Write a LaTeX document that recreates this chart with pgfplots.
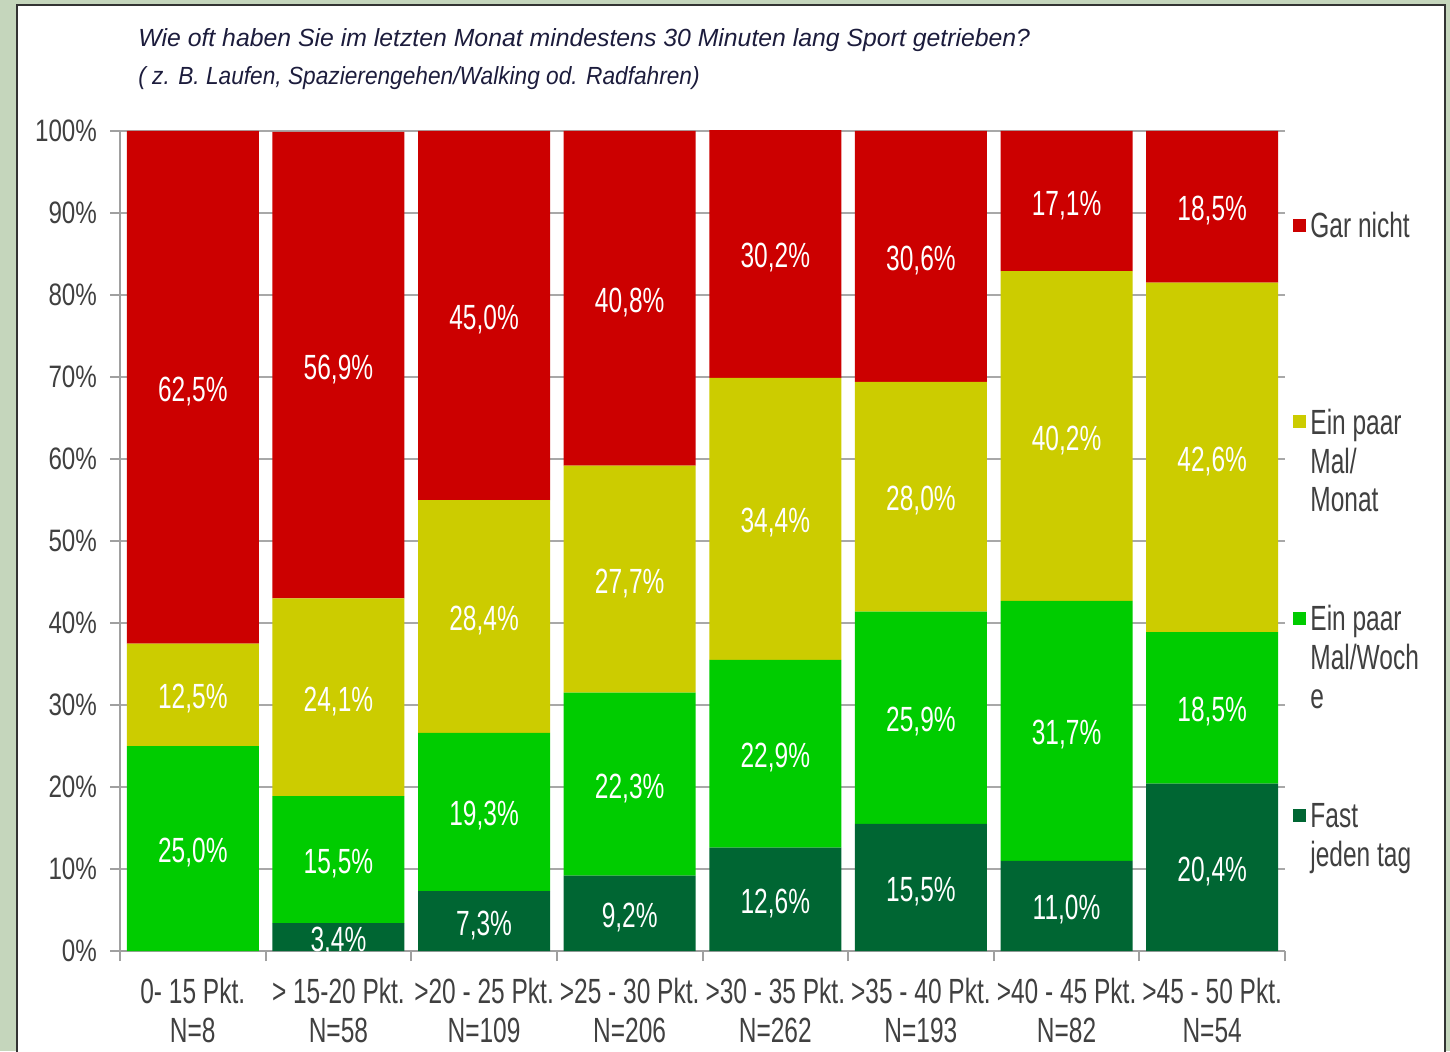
\documentclass[border=0pt]{standalone}
\usepackage{pgfplots}
\pgfplotsset{compat=1.18}
\usepackage{pgfplotstable}
\usepackage{fontspec}
\setmainfont{Liberation Sans}
\newfontfamily\narrow{Liberation Sans}[FakeStretch=0.7]
\newfontfamily\ticknarrow{Liberation Sans}[FakeStretch=0.78]
\newfontfamily\titletwo{Liberation Sans}[FakeStretch=0.915]
\definecolor{gar}{HTML}{CC0000}
\definecolor{monat}{HTML}{CCCC00}
\definecolor{woche}{HTML}{00CC00}
\definecolor{fast}{HTML}{006633}
\definecolor{bgg}{HTML}{C5D6BC}
\definecolor{txt}{HTML}{404040}
\definecolor{ttl}{HTML}{1C1C3C}
\definecolor{axgray}{HTML}{A0A0A0}
\definecolor{grdgray}{HTML}{A8A8A8}

\pgfplotstableread{
x fast woche monat gar
0 0    25.0 12.5 62.5
1 3.4  15.5 24.1 56.9
2 7.3  19.3 28.4 45.0
3 9.2  22.3 27.7 40.8
4 12.6 22.9 34.4 30.2
5 15.5 25.9 28.0 30.6
6 11.0 31.7 40.2 17.1
7 20.4 18.5 42.6 18.5
}\data
\pgfplotstablecreatecol[create col/expr={\thisrow{fast}/2}]{mfast}\data
\pgfplotstablecreatecol[create col/expr={\thisrow{fast}+\thisrow{woche}/2}]{mwoche}\data
\pgfplotstablecreatecol[create col/expr={\thisrow{fast}+\thisrow{woche}+\thisrow{monat}/2}]{mmonat}\data
\pgfplotstablecreatecol[create col/expr={\thisrow{fast}+\thisrow{woche}+\thisrow{monat}+\thisrow{gar}/2}]{mgar}\data

\pgfplotsset{
  geom/.style={at={(60pt,50pt)}, anchor=south west, scale only axis,
    width=582.5pt, height=410pt, xmin=-0.5, xmax=7.5, ymin=0, ymax=100},
  lbl/.style={draw=none, mark=none, point meta=explicit,
    nodes near coords={\pgfmathprintnumber[fixed,fixed zerofill,precision=1,use comma]{\pgfplotspointmeta}\%},
    every node near coord/.append style={font=\narrow\fontsize{17.5}{19.5}\selectfont, text=white, anchor=center, inner sep=0pt, yshift=-2pt}},
}

\begin{document}
\begin{tikzpicture}
\clip (0,0) rectangle (725pt,525.5pt);
\fill[bgg] (0,0) rectangle (725pt,525.5pt);
\filldraw[fill=white, draw=black!80, line width=1pt] (8.5pt,-5pt) rectangle (722.5pt,523pt);

\node[anchor=base west, text=ttl, font=\fontsize{12.4}{14}\selectfont\itshape, inner sep=0pt] at (69pt,502pt) {Wie oft haben Sie im letzten Monat mindestens 30 Minuten lang Sport getrieben?};
\node[anchor=base west, text=ttl, font=\titletwo\fontsize{12.4}{14}\selectfont\itshape, inner sep=0pt] at (69pt,483pt) {( z. B. Laufen, Spazierengehen/Walking od. Radfahren)};

\begin{axis}[
  geom,
  ybar stacked, bar width=0.906,
  axis x line*=bottom, axis y line*=left,
  axis line style={draw=axgray, line width=1pt},
  ytick={0,10,...,100},
  yticklabel={\pgfmathprintnumber{\tick}\%},
  xtick={-0.5,0.5,1.5,2.5,3.5,4.5,5.5,6.5,7.5},
  xticklabels={{0- 15 Pkt.\\N=8},{> 15-20 Pkt.\\N=58},{>20 - 25 Pkt.\\N=109},{>25 - 30 Pkt.\\N=206},{>30 - 35 Pkt.\\N=262},{>35 - 40 Pkt.\\N=193},{>40 - 45 Pkt.\\N=82},{>45 - 50 Pkt.\\N=54},{}},
  xticklabel style={xshift=36.4pt, yshift=-5pt, align=center, font=\narrow\fontsize{17.5}{19.5}\selectfont, text=txt},
  yticklabel style={xshift=-3pt, font=\ticknarrow\fontsize{15.5}{17}\selectfont, text=txt},
  tick align=outside, major tick length=5pt,
  tick style={draw=axgray, line width=1pt},
  ymajorgrids, grid style={draw=grdgray, line width=0.8pt},
  /pgf/number format/assume math mode=true,
]
\addplot[fill=fast, draw=none] table[x=x,y=fast]{\data};
\addplot[fill=woche, draw=none] table[x=x,y=woche]{\data};
\addplot[fill=monat, draw=none] table[x=x,y=monat]{\data};
\addplot[fill=gar, draw=none] table[x=x,y=gar]{\data};
\end{axis}

\begin{axis}[geom, hide axis, clip=false, /pgf/number format/assume math mode=true]
\addplot[lbl, skip coords between index={0}{1}] table[x=x,y=mfast,meta=fast]{\data};
\addplot[lbl] table[x=x,y=mwoche,meta=woche]{\data};
\addplot[lbl] table[x=x,y=mmonat,meta=monat]{\data};
\addplot[lbl] table[x=x,y=mgar,meta=gar]{\data};
\end{axis}

\fill[gar] (646.5pt,409.25pt) rectangle ++(6.5pt,6.5pt);
\fill[monat] (646.5pt,311.25pt) rectangle ++(6.5pt,6.5pt);
\fill[woche] (646.5pt,213.25pt) rectangle ++(6.5pt,6.5pt);
\fill[fast] (646.5pt,114.75pt) rectangle ++(6.5pt,6.5pt);
\begin{scope}[every node/.style={anchor=base west, inner sep=0pt, text=txt, font=\narrow\fontsize{17.5}{19.5}\selectfont}]
\node at (655pt,406.5pt) {Gar nicht};
\node at (655pt,308.5pt) {Ein paar};
\node at (655pt,289pt) {Mal/};
\node at (655pt,269.5pt) {Monat};
\node at (655pt,210.5pt) {Ein paar};
\node at (655pt,191pt) {Mal/Woch};
\node at (655pt,171.5pt) {e};
\node at (655pt,112pt) {Fast};
\node at (655pt,92.5pt) {jeden tag};
\end{scope}
\end{tikzpicture}
\end{document}
